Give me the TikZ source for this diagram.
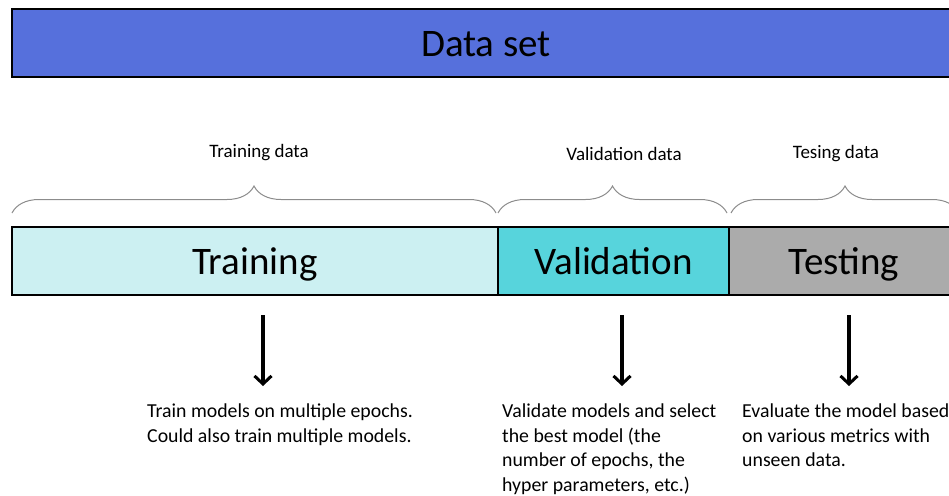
\documentclass[tikz,border=0pt]{standalone}
\usepackage{fontspec}
\setmainfont{Carlito}
\usetikzlibrary{arrows.meta,decorations.pathreplacing}
\definecolor{dsblue}{HTML}{5670DC}
\definecolor{trainfill}{HTML}{CCF0F2}
\definecolor{valfill}{HTML}{57D4DC}
\definecolor{testfill}{HTML}{ABABAB}
\definecolor{bracegray}{HTML}{8C8C8C}
\tikzset{
  bar/.style={draw=black, line width=2pt, inner sep=0pt, anchor=north west,
    minimum height=68pt, text height=32pt, text depth=5pt,
    font=\fontsize{39}{45}\selectfont},
  setlabel/.style={inner sep=0pt, font=\fontsize{19}{23}\selectfont},
  brace/.style={draw=bracegray, line width=1pt,
    decorate, decoration={brace, amplitude=27pt}},
  note/.style={inner sep=0pt, anchor=north west, align=left,
    font=\fontsize{19.8}{24.4}\selectfont},
  down/.style={line width=3.2pt, -{Straight Barb[length=8pt,width=17pt,line width=3pt]}}
}
\begin{document}
\begin{tikzpicture}[x=1pt, y=-1pt]
\useasboundingbox (0,0) rectangle (949,495);
\clip (0,0) rectangle (949,495);

% whole data set
\node[bar, fill=dsblue, minimum width=948pt] (ds) at (11,8) {Data set};

% split of the data set
\node[bar, fill=trainfill, minimum width=486pt] (train) at (11,226) {Training};
\node[bar, fill=valfill, minimum width=231pt] (val) at (497,226) {Validation};
\node[bar, fill=testfill, minimum width=230pt] (test) at (728,226) {Testing};

% braces over each part
\coordinate (trL) at (12,213);
\coordinate (trR) at (496,213);
\coordinate (vaL) at (498,213);
\coordinate (vaR) at (727,213);
\coordinate (teL) at (731,213);
\coordinate (teR) at (959,213);
\draw[brace] (trL) -- (trR);
\draw[brace] (vaL) -- (vaR);
\draw[brace] (teL) -- (teR);

\node[setlabel] (trlab) at (259,153) {Training data};
\node[setlabel] (valab) at (624,154) {Validation data};
\node[setlabel] (telab) at (836,154) {Tesing data};

% what each part is used for
\node[note] (trnote) at (147,404) {Train models on multiple epochs.\\Could also train multiple models.};
\node[note] (vanote) at (502,404) {Validate models and select\\the best model (the\\number of epochs, the\\hyper parameters, etc.)};
\node[note] (tenote) at (742,404) {Evaluate the model based\\on various metrics with\\unseen data.};

\coordinate (a1s) at (263,315);
\coordinate (a1e) at (263,386);
\coordinate (a2s) at (622,315);
\coordinate (a2e) at (622,386);
\coordinate (a3s) at (849,315);
\coordinate (a3e) at (849,386);
\draw[down] (a1s) -- (a1e);
\draw[down] (a2s) -- (a2e);
\draw[down] (a3s) -- (a3e);
\end{tikzpicture}
\end{document}
